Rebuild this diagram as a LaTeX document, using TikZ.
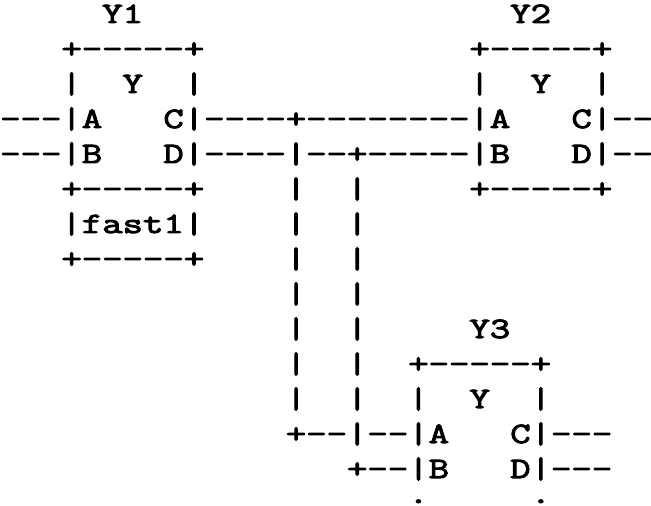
\documentclass[tikz,border=0pt]{standalone}
\usepackage{fontspec}
\setmonofont[FakeStretch=1.343,FakeBold=3.4]{Latin Modern Mono}
\tikzset{textrow/.style={anchor=base west,inner sep=0pt,font=\ttfamily\fontsize{29.5}{29.5}\selectfont}}
\begin{document}
\begin{tikzpicture}[x=1pt,y=1pt]
\useasboundingbox (0,0) rectangle (651,506);
\clip (0,0) rectangle (651,506);

\node[textrow] (row0) at (0,483) {~~~~~Y1~~~~~~~~~~~~~~~~~~Y2};
\node[textrow] (row1) at (0,448) {~~~+-----+~~~~~~~~~~~~~+-----+};
\node[textrow] (row2) at (0,413) {~~~|~~Y~~|~~~~~~~~~~~~~|~~Y~~|};
\node[textrow] (row3) at (0,378) {---|A~~~C|----+--------|A~~~C|--};
\node[textrow] (row4) at (0,343) {---|B~~~D|----|--+-----|B~~~D|--};
\node[textrow] (row5) at (0,308) {~~~+-----+~~~~|~~|~~~~~+-----+};
\node[textrow] (row6) at (0,273) {~~~|fast1|~~~~|~~|};
\node[textrow] (row7) at (0,238) {~~~+-----+~~~~|~~|};
\node[textrow] (row8) at (0,203) {~~~~~~~~~~~~~~|~~|};
\node[textrow] (row9) at (0,168) {~~~~~~~~~~~~~~|~~|~~~~~Y3};
\node[textrow] (row10) at (0,133) {~~~~~~~~~~~~~~|~~|~~+-----+};
\node[textrow] (row11) at (0,98) {~~~~~~~~~~~~~~|~~|~~|~~Y~~|};
\node[textrow] (row12) at (0,63) {~~~~~~~~~~~~~~+--|--|A~~~C|---};
\node[textrow] (row13) at (0,28) {~~~~~~~~~~~~~~~~~+--|B~~~D|---};
\node[textrow] (row14) at (0,3) {~~~~~~~~~~~~~~~~~~~~.~~~~~.};
\end{tikzpicture}
\end{document}
